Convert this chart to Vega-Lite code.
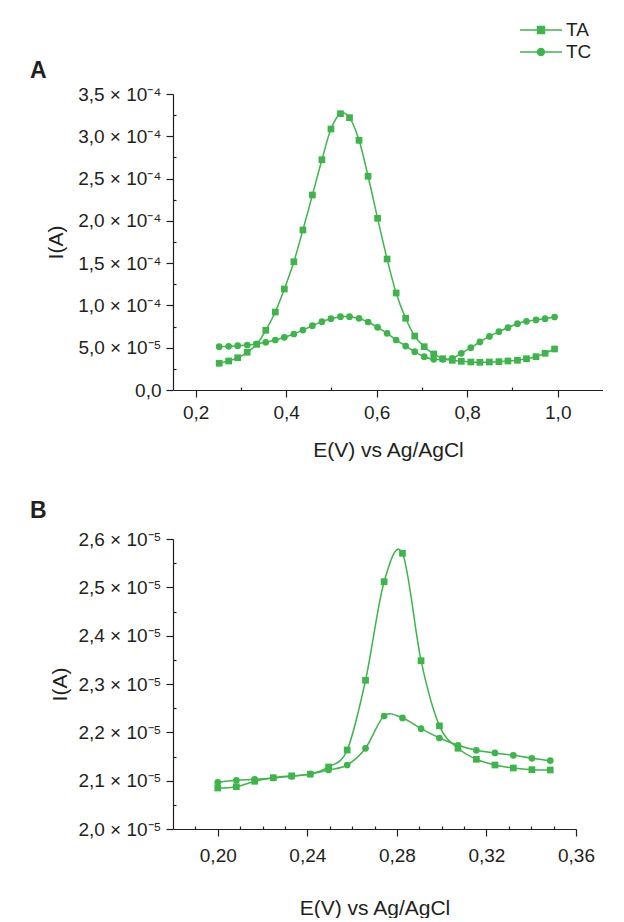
{
  "$schema": "https://vega.github.io/schema/vega-lite/v6.json",
  "padding": {"left": 30, "top": 18, "right": 0, "bottom": 0},
  "background": "white",
  "datasets": {
    "A": [
      {"series":"TA","E":0.252,"I":3.16e-5},{"series":"TA","E":0.273,"I":3.43e-5},{"series":"TA","E":0.293,"I":3.82e-5},{"series":"TA","E":0.314,"I":4.46e-5},{"series":"TA","E":0.335,"I":5.40e-5},{"series":"TA","E":0.355,"I":7.06e-5},{"series":"TA","E":0.376,"I":9.22e-5},{"series":"TA","E":0.396,"I":1.194e-4},{"series":"TA","E":0.417,"I":1.517e-4},{"series":"TA","E":0.437,"I":1.892e-4},{"series":"TA","E":0.458,"I":2.306e-4},{"series":"TA","E":0.479,"I":2.723e-4},{"series":"TA","E":0.499,"I":3.086e-4},{"series":"TA","E":0.520,"I":3.267e-4},{"series":"TA","E":0.540,"I":3.220e-4},{"series":"TA","E":0.561,"I":2.952e-4},{"series":"TA","E":0.581,"I":2.527e-4},{"series":"TA","E":0.602,"I":2.030e-4},{"series":"TA","E":0.623,"I":1.549e-4},{"series":"TA","E":0.643,"I":1.147e-4},{"series":"TA","E":0.664,"I":8.48e-5},{"series":"TA","E":0.684,"I":6.38e-5},{"series":"TA","E":0.705,"I":5.12e-5},{"series":"TA","E":0.726,"I":4.26e-5},{"series":"TA","E":0.746,"I":3.70e-5},{"series":"TA","E":0.767,"I":3.51e-5},{"series":"TA","E":0.787,"I":3.39e-5},{"series":"TA","E":0.808,"I":3.31e-5},{"series":"TA","E":0.828,"I":3.27e-5},{"series":"TA","E":0.849,"I":3.31e-5},{"series":"TA","E":0.870,"I":3.35e-5},{"series":"TA","E":0.890,"I":3.43e-5},{"series":"TA","E":0.911,"I":3.51e-5},{"series":"TA","E":0.931,"I":3.70e-5},{"series":"TA","E":0.952,"I":3.94e-5},{"series":"TA","E":0.972,"I":4.34e-5},{"series":"TA","E":0.993,"I":4.85e-5},
      {"series":"TC","E":0.252,"I":5.12e-5},{"series":"TC","E":0.273,"I":5.16e-5},{"series":"TC","E":0.293,"I":5.24e-5},{"series":"TC","E":0.314,"I":5.32e-5},{"series":"TC","E":0.335,"I":5.47e-5},{"series":"TC","E":0.355,"I":5.64e-5},{"series":"TC","E":0.376,"I":5.91e-5},{"series":"TC","E":0.396,"I":6.23e-5},{"series":"TC","E":0.417,"I":6.62e-5},{"series":"TC","E":0.437,"I":7.09e-5},{"series":"TC","E":0.458,"I":7.60e-5},{"series":"TC","E":0.479,"I":8.08e-5},{"series":"TC","E":0.499,"I":8.43e-5},{"series":"TC","E":0.520,"I":8.67e-5},{"series":"TC","E":0.540,"I":8.67e-5},{"series":"TC","E":0.561,"I":8.47e-5},{"series":"TC","E":0.581,"I":8.04e-5},{"series":"TC","E":0.602,"I":7.41e-5},{"series":"TC","E":0.623,"I":6.70e-5},{"series":"TC","E":0.643,"I":5.91e-5},{"series":"TC","E":0.664,"I":5.20e-5},{"series":"TC","E":0.684,"I":4.53e-5},{"series":"TC","E":0.705,"I":3.94e-5},{"series":"TC","E":0.726,"I":3.63e-5},{"series":"TC","E":0.746,"I":3.63e-5},{"series":"TC","E":0.767,"I":3.74e-5},{"series":"TC","E":0.787,"I":4.34e-5},{"series":"TC","E":0.808,"I":5.00e-5},{"series":"TC","E":0.828,"I":5.68e-5},{"series":"TC","E":0.849,"I":6.34e-5},{"series":"TC","E":0.870,"I":6.90e-5},{"series":"TC","E":0.890,"I":7.37e-5},{"series":"TC","E":0.911,"I":7.84e-5},{"series":"TC","E":0.931,"I":8.12e-5},{"series":"TC","E":0.952,"I":8.28e-5},{"series":"TC","E":0.972,"I":8.43e-5},{"series":"TC","E":0.993,"I":8.63e-5}
    ],
    "B": [
      {"series":"TA","E":0.2000,"I":2.0848e-5},{"series":"TA","E":0.2083,"I":2.0875e-5},{"series":"TA","E":0.2165,"I":2.0987e-5},{"series":"TA","E":0.2248,"I":2.1062e-5},{"series":"TA","E":0.2330,"I":2.1100e-5},{"series":"TA","E":0.2413,"I":2.1135e-5},{"series":"TA","E":0.2495,"I":2.1283e-5},{"series":"TA","E":0.2578,"I":2.1635e-5},{"series":"TA","E":0.2660,"I":2.3077e-5},{"series":"TA","E":0.2743,"I":2.5117e-5},{"series":"TA","E":0.2825,"I":2.5704e-5},{"series":"TA","E":0.2908,"I":2.3482e-5},{"series":"TA","E":0.2990,"I":2.2134e-5},{"series":"TA","E":0.3073,"I":2.1670e-5},{"series":"TA","E":0.3155,"I":2.1442e-5},{"series":"TA","E":0.3238,"I":2.1324e-5},{"series":"TA","E":0.3320,"I":2.1262e-5},{"series":"TA","E":0.3403,"I":2.1227e-5},{"series":"TA","E":0.3485,"I":2.1221e-5},
      {"series":"TC","E":0.2000,"I":2.0966e-5},{"series":"TC","E":0.2083,"I":2.1007e-5},{"series":"TC","E":0.2165,"I":2.1028e-5},{"series":"TC","E":0.2248,"I":2.1055e-5},{"series":"TC","E":0.2330,"I":2.1090e-5},{"series":"TC","E":0.2413,"I":2.1138e-5},{"series":"TC","E":0.2495,"I":2.1221e-5},{"series":"TC","E":0.2578,"I":2.1324e-5},{"series":"TC","E":0.2660,"I":2.1670e-5},{"series":"TC","E":0.2743,"I":2.2338e-5},{"series":"TC","E":0.2825,"I":2.2297e-5},{"series":"TC","E":0.2908,"I":2.2075e-5},{"series":"TC","E":0.2990,"I":2.1883e-5},{"series":"TC","E":0.3073,"I":2.1732e-5},{"series":"TC","E":0.3155,"I":2.1628e-5},{"series":"TC","E":0.3238,"I":2.1573e-5},{"series":"TC","E":0.3320,"I":2.1525e-5},{"series":"TC","E":0.3403,"I":2.1463e-5},{"series":"TC","E":0.3485,"I":2.1413e-5}
    ]
  },
  "vconcat": [
    {
      "data": {"name": "A"},
      "width": 430,
      "height": 296,
      "title": {"text": "A", "anchor": "start", "frame": "group", "dx": -143, "offset": 2, "fontSize": 23, "fontWeight": "bold", "font": "Liberation Sans", "color": "#231f20"},
      "encoding": {
        "x": {"field": "E", "type": "quantitative",
          "scale": {"domain": [0.15, 1.1], "nice": false, "zero": false},
          "axis": {"title": "E(V) vs Ag/AgCl", "values": [0.2, 0.3, 0.4, 0.5, 0.6, 0.7, 0.8, 0.9, 1.0],
            "labelExpr": "abs(datum.value*5 - round(datum.value*5)) > 0.01 ? '' : replace(format(datum.value, '.1f'), '.', ',')",
            "tickSize": {"condition": {"test": "abs(datum.value*5 - round(datum.value*5)) > 0.01", "value": -3}, "value": 7},
            "labelPadding": 6, "titlePadding": 17}},
        "y": {"field": "I", "type": "quantitative",
          "scale": {"domain": [0, 0.00035], "nice": false, "zero": false},
          "axis": {"title": "I(A)", "titleX": -107,
            "values": [0, 2.5e-5, 5e-5, 7.5e-5, 1e-4, 1.25e-4, 1.5e-4, 1.75e-4, 2e-4, 2.25e-4, 2.5e-4, 2.75e-4, 3e-4, 3.25e-4, 3.5e-4],
            "labelExpr": "abs(datum.value*2e4 - round(datum.value*2e4)) > 0.01 ? '' : (datum.value == 0 ? '0,0\u2007\u2009' : (datum.value < 9e-5 ? replace(format(datum.value*1e5, '.1f'), '.', ',') + ' × 10⁻⁵' : replace(format(datum.value*1e4, '.1f'), '.', ',') + ' × 10⁻⁴'))",
            "tickSize": {"condition": {"test": "abs(datum.value*2e4 - round(datum.value*2e4)) > 0.01", "value": -3}, "value": 7},
            "labelPadding": 5}}
      },
      "layer": [
        {"mark": {"type": "line", "interpolate": "cardinal", "color": "#3db54a", "strokeWidth": 1.5},
         "encoding": {"detail": {"field": "series", "type": "nominal"}}},
        {"transform": [{"filter": "datum.series == 'TC'"}],
         "mark": {"type": "point", "shape": "circle", "filled": true, "color": "#3db54a", "opacity": 1, "size": 45}},
        {"transform": [{"filter": "datum.series == 'TA'"}],
         "mark": {"type": "point", "shape": "square", "filled": true, "color": "#3db54a", "opacity": 1, "size": 45}},
        {"transform": [{"filter": "false"}],
         "mark": {"type": "point", "filled": false, "color": "#3db54a", "strokeWidth": 1.5, "opacity": 1},
         "encoding": {
           "shape": {"field": "series", "type": "nominal",
             "scale": {"domain": ["TA", "TC"], "range": [
               "M-1.91,0H1.91M-0.31,-0.31H0.31V0.31H-0.31ZM-0.31,-0.2H0.31M-0.31,-0.09H0.31M-0.31,0.09H0.31M-0.31,0.2H0.31",
               "M-1.91,0H1.91M0.31,0A0.31,0.31,0,1,1,-0.31,0A0.31,0.31,0,1,1,0.31,0ZM0.2,0A0.2,0.2,0,1,1,-0.2,0A0.2,0.2,0,1,1,0.2,0ZM0.09,0A0.09,0.09,0,1,1,-0.09,0A0.09,0.09,0,1,1,0.09,0Z"]},
             "legend": {"title": null, "orient": "none", "legendX": 356, "legendY": -76,
               "symbolSize": 484, "labelFontSize": 19, "labelFont": "Liberation Sans", "labelColor": "#231f20", "labelOffset": 13, "rowPadding": 0,
               "symbolStrokeColor": "#3db54a", "symbolFillColor": "#3db54a", "symbolStrokeWidth": 1.5, "symbolOpacity": 1}}
         }}
      ]
    },
    {
      "data": {"name": "B"},
      "width": 403,
      "height": 290,
      "title": {"text": "B", "anchor": "start", "frame": "group", "dx": -143, "offset": 7, "fontSize": 23, "fontWeight": "bold", "font": "Liberation Sans", "color": "#231f20"},
      "encoding": {
        "x": {"field": "E", "type": "quantitative",
          "scale": {"domain": [0.18, 0.36], "nice": false, "zero": false},
          "axis": {"title": "E(V) vs Ag/AgCl",
            "values": [0.19, 0.2, 0.21, 0.22, 0.23, 0.24, 0.25, 0.26, 0.27, 0.28, 0.29, 0.3, 0.31, 0.32, 0.33, 0.34, 0.35, 0.36],
            "labelExpr": "abs(datum.value*25 - round(datum.value*25)) > 0.01 ? '' : replace(format(datum.value, '.2f'), '.', ',')",
            "tickSize": {"condition": {"test": "abs(datum.value*25 - round(datum.value*25)) > 0.01", "value": -3}, "value": 7},
            "labelPadding": 10, "titlePadding": 32}},
        "y": {"field": "I", "type": "quantitative",
          "scale": {"domain": [2.0e-5, 2.6e-5], "nice": false, "zero": false},
          "axis": {"title": "I(A)", "titleX": -103,
            "values": [2.0e-5, 2.05e-5, 2.1e-5, 2.15e-5, 2.2e-5, 2.25e-5, 2.3e-5, 2.35e-5, 2.4e-5, 2.45e-5, 2.5e-5, 2.55e-5, 2.6e-5],
            "labelExpr": "abs(datum.value*1e6 - round(datum.value*1e6)) > 0.01 ? '' : replace(format(datum.value*1e5, '.1f'), '.', ',') + ' × 10⁻⁵'",
            "tickSize": {"condition": {"test": "abs(datum.value*1e6 - round(datum.value*1e6)) > 0.01", "value": -3}, "value": 7},
            "labelPadding": 5}}
      },
      "layer": [
        {"mark": {"type": "line", "interpolate": "cardinal", "color": "#3db54a", "strokeWidth": 1.5},
         "encoding": {"detail": {"field": "series", "type": "nominal"}}},
        {"transform": [{"filter": "datum.series == 'TC'"}],
         "mark": {"type": "point", "shape": "circle", "filled": true, "color": "#3db54a", "opacity": 1, "size": 45}},
        {"transform": [{"filter": "datum.series == 'TA'"}],
         "mark": {"type": "point", "shape": "square", "filled": true, "color": "#3db54a", "opacity": 1, "size": 45}}
      ]
    }
  ],
  "spacing": 40,
  "config": {
    "view": {"stroke": null},
    "font": "Liberation Sans",
    "axis": {"domainColor": "#231f20", "tickColor": "#231f20", "labelColor": "#231f20", "titleColor": "#231f20",
      "labelFontSize": 19, "titleFontSize": 21, "titleFontWeight": "normal", "labelFont": "Liberation Sans", "titleFont": "Liberation Sans",
      "grid": false, "domainWidth": 1.2, "tickWidth": 1.2, "labelOverlap": false, "labelFlush": false}
  }
}
